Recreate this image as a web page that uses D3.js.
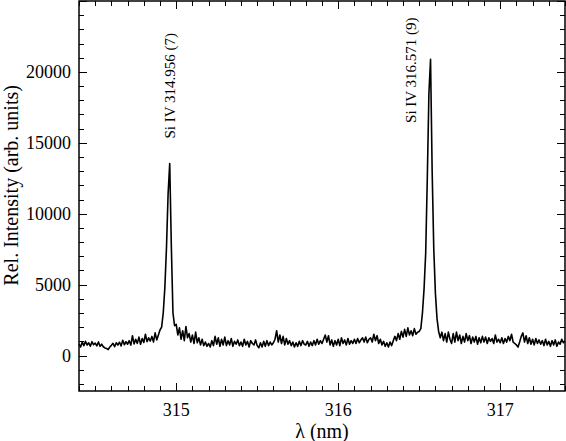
<!DOCTYPE html>
<html>
<head>
<meta charset="utf-8">
<script src="https://cdn.jsdelivr.net/npm/d3@7"></script>
<style>
  body { margin: 0; background: #fff; }
  svg text { font-family: "Liberation Serif", "DejaVu Serif", serif; fill: #000; }
</style>
</head>
<body>
<div id="chart"></div>
<script>
// wavelength grid: start + i * step (nm)
var lambdaStart = 314.40, lambdaStep = 0.01;

// relative intensity, one value per 0.01 nm
var intensity = [
  820, 600, 950, 700, 1000, 740, 900, 660, 980, 760,         // 314.40
  880, 680, 960, 650, 800, 620, 540, 500, 420, 600,          // 314.50
  720, 860, 620, 900, 740, 940, 680, 1080, 760, 980,         // 314.60
  800, 1050, 740, 1400, 820, 1150, 860, 1300, 800, 1200,     // 314.70
  920, 1500, 980, 1250, 1020, 1350, 960, 1600, 1100, 1450,   // 314.80
  1800, 2000, 3000, 4800, 7600, 11400, 13540, 7700, 3000, 2100, // 314.90
  2200, 1450, 1950, 1150, 1750, 1050, 2050, 1250, 1550, 950, // 315.00
  1450, 850, 1650, 900, 1250, 750, 1150, 700, 950, 650,      // 315.10
  850, 600, 1050, 700, 1350, 800, 1250, 650, 1150, 750,      // 315.20
  1300, 700, 1050, 750, 1200, 650, 1000, 800, 1100, 700,     // 315.30
  950, 650, 1150, 750, 1000, 600, 1050, 850, 750, 1100,      // 315.40
  700, 550, 900, 600, 1000, 650, 1050, 700, 950, 750,        // 315.50
  900, 1150, 1750, 950, 1450, 850, 1350, 750, 1200, 800,     // 315.60
  1050, 700, 950, 600, 900, 650, 1000, 700, 1050, 800,       // 315.70
  750, 1000, 650, 950, 700, 1050, 750, 1150, 800, 1050,      // 315.80
  850, 1150, 1450, 950, 1400, 750, 1100, 650, 1050, 750,     // 315.90
  1150, 700, 1250, 850, 1100, 750, 1200, 800, 1050, 850,     // 316.00
  1150, 850, 1200, 900, 1100, 1250, 950, 1300, 900, 1150,    // 316.10
  1250, 950, 1500, 1050, 1400, 850, 1150, 750, 1000, 650,    // 316.20
  900, 600, 950, 700, 1050, 1350, 1050, 1550, 1150, 1700,    // 316.30
  1300, 1850, 1350, 1950, 1450, 1750, 1400, 1900, 1500, 1650, // 316.40
  1700, 1900, 3000, 4700, 7200, 12500, 18500, 20890, 13000, 7500, // 316.50
  4400, 2600, 1700, 1250, 1650, 1050, 1550, 950, 1650, 1150, // 316.60
  850, 1550, 950, 1650, 1050, 1450, 850, 1350, 950, 1550,    // 316.70
  1050, 1400, 850, 1300, 950, 1350, 800, 1250, 900, 1350,    // 316.80
  950, 1300, 850, 1250, 1000, 1200, 850, 1450, 950, 1150,    // 316.90
  900, 1250, 850, 1200, 950, 1350, 1050, 1500, 950, 850,     // 317.00
  750, 600, 950, 1350, 1600, 950, 1400, 850, 1250, 800,      // 317.10
  1150, 750, 1200, 850, 1100, 800, 1050, 700, 1150, 750,     // 317.20
  1000, 650, 1050, 750, 1100, 650, 950, 800, 1150, 900, 1050 // 317.30
];

var xTicks = [315, 316, 317];
var yTicks = [0, 5000, 10000, 15000, 20000];
var lineLabels = [
  { text: "Si IV 314.956 (7)", lambda: 314.956, value: 15300 },
  { text: "Si IV 316.571 (9)", lambda: 316.571, value: 16400 }
];

var width = 566, height = 441;
var margin = { left: 79, right: 1, top: 1, bottom: 50 };
var font = "'Liberation Serif', 'DejaVu Serif', serif";
var labelDx = [6, -15]; // label baseline offset from its line (px)

var svg = d3.select("#chart")
  .append("svg")
  .attr("width", width)
  .attr("height", height)
  .attr("font-family", font);

var x = d3.scaleLinear().domain([314.4, 317.4]).range([margin.left, width - margin.right]);
var y = d3.scaleLinear().domain([-2500, 25000]).range([height - margin.bottom, margin.top]);

var data = intensity.map(function(v, i) {
  return { lambda: lambdaStart + i * lambdaStep, value: v };
});

var x0 = x.range()[0], x1 = x.range()[1], y0 = y.range()[0], y1 = y.range()[1];

// ticks on all four sides, pointing inward
var xMinor = d3.range(3144, 3175).map(function(d) { return d / 10; });
var yMinor = d3.range(-2, 26).map(function(d) { return d * 1000; });

var ticks = svg.append("g").attr("stroke", "#000").attr("stroke-width", 1);

xMinor.forEach(function(v) {
  var major = Math.abs(v - Math.round(v)) < 1e-6;
  var len = major ? 8 : 5;
  var px = Math.round(x(v)) + 0.5;
  ticks.append("line").attr("x1", px).attr("x2", px).attr("y1", y0).attr("y2", y0 - len);
  ticks.append("line").attr("x1", px).attr("x2", px).attr("y1", y1).attr("y2", y1 + len);
});

yMinor.forEach(function(v) {
  if (v > 25000) return;
  var major = v % 5000 === 0;
  var len = major ? 8 : 5;
  var py = Math.round(y(v)) + 0.5;
  ticks.append("line").attr("x1", x0).attr("x2", x0 + len).attr("y1", py).attr("y2", py);
  ticks.append("line").attr("x1", x1).attr("x2", x1 - len).attr("y1", py).attr("y2", py);
});

// spectrum
var line = d3.line()
  .x(function(d) { return x(d.lambda); })
  .y(function(d) { return y(d.value); });

svg.append("path")
  .datum(data)
  .attr("fill", "none")
  .attr("stroke", "#000")
  .attr("stroke-width", 1.6)
  .attr("stroke-linejoin", "round")
  .attr("d", line);

// frame
svg.append("rect")
  .attr("x", x0)
  .attr("y", y1)
  .attr("width", x1 - x0)
  .attr("height", y0 - y1)
  .attr("fill", "none")
  .attr("stroke", "#000")
  .attr("stroke-width", 1.5);

// tick labels
svg.selectAll(".xlab")
  .data(xTicks)
  .enter().append("text")
  .attr("class", "xlab")
  .attr("x", function(d) { return x(d); })
  .attr("y", y0 + 25)
  .attr("text-anchor", "middle")
  .attr("font-size", 18)
  .text(function(d) { return d; });

svg.selectAll(".ylab")
  .data(yTicks)
  .enter().append("text")
  .attr("class", "ylab")
  .attr("x", x0 - 8)
  .attr("y", function(d) { return y(d) + 6; })
  .attr("text-anchor", "end")
  .attr("font-size", 18)
  .text(function(d) { return d; });

// axis titles
svg.append("text")
  .attr("x", (x0 + x1) / 2)
  .attr("y", 438)
  .attr("text-anchor", "middle")
  .attr("font-size", 20)
  .text("λ (nm)");

svg.append("text")
  .attr("transform", "translate(18," + (y(12000)) + ") rotate(-90)")
  .attr("text-anchor", "middle")
  .attr("font-size", 20)
  .text("Rel. Intensity (arb. units)");

// line identifications
svg.selectAll(".peak")
  .data(lineLabels)
  .enter().append("text")
  .attr("class", "peak")
  .attr("transform", function(d, i) {
    return "translate(" + (x(d.lambda) + labelDx[i]) + "," + y(d.value) + ") rotate(-90)";
  })
  .attr("font-size", 15)
  .text(function(d) { return d.text; });
</script>
</body>
</html>
